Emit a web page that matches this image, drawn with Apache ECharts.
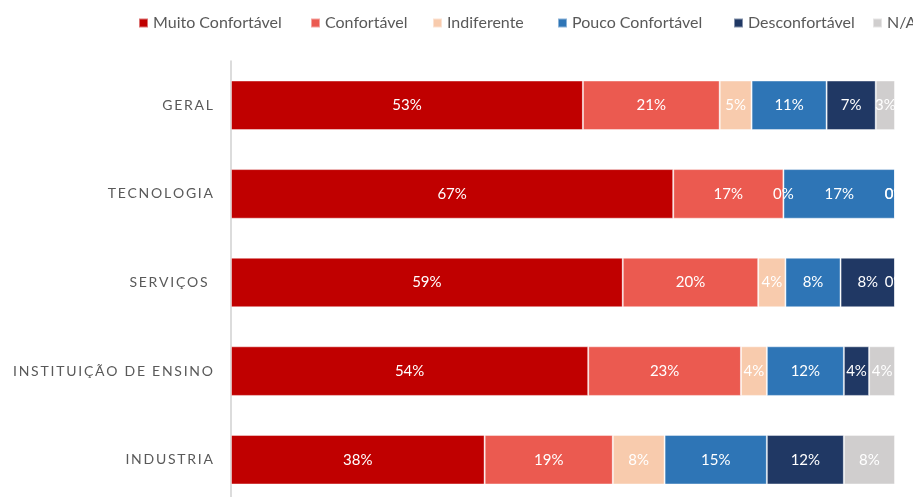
<!DOCTYPE html>
<html>
<head>
<meta charset="utf-8">
<script src="https://cdn.jsdelivr.net/npm/echarts@6/dist/echarts.min.js"></script>
<style>html,body{margin:0;padding:0;background:#fff}#c{width:913px;height:497px}</style>
</head>
<body>
<div id="c"></div>
<script>
const categories = ['GERAL', 'TECNOLOGIA', 'SERVIÇOS ', 'INSTITUIÇÃO DE ENSINO', 'INDUSTRIA'];
const seriesNames = ['Muito Confortável', 'Confortável', 'Indiferente', 'Pouco Confortável', 'Desconfortável', 'N/A'];
const muitoConfortavel = [53.0, 66.6, 59.0, 53.8, 38.2];
const confortavel      = [20.6, 16.6, 20.4, 23.0, 19.3];
const indiferente      = [4.8, 0, 4.1, 3.9, 7.8];
const poucoConfortavel = [11.3, 16.8, 8.3, 11.6, 15.4];
const desconfortavel   = [7.4, 0, 8.2, 3.8, 11.6];
const naoAplica        = [2.9, 0, 0, 3.9, 7.7];
const seriesData = [muitoConfortavel, confortavel, indiferente, poucoConfortavel, desconfortavel, naoAplica];
const colors = ['#C00000', '#EB5A50', '#F8CBAD', '#2E75B6', '#203864', '#D0CECE'];
const legendLeft = [138, 310, 432, 557, 733, 872];

const FONT = 'Lato';
const chart = echarts.init(document.getElementById('c'), null, {renderer: 'canvas'});
const option = {
  animation: false,
  color: colors,
  legend: seriesNames.map((n, i) => ({
    data: [n],
    left: legendLeft[i],
    top: 15,
    itemWidth: 9,
    itemHeight: 9,
    itemGap: 0,
    padding: 0,
    icon: 'rect',
    selectedMode: false,
    textStyle: {fontFamily: FONT, fontSize: 16, color: '#595959'}
  })),
  grid: {left: 231, right: 18, top: 61, height: 443, containLabel: false, outerBoundsMode: 'none'},
  xAxis: {type: 'value', min: 0, max: 100, show: false},
  yAxis: {
    type: 'category',
    data: categories,
    inverse: true,
    axisTick: {show: false},
    axisLine: {show: true, lineStyle: {color: '#D0D0D0', width: 1.5}},
    axisLabel: {
      margin: 18,
      color: '#595959',
      fontFamily: FONT,
      fontSize: 14,
      formatter: v => Array.from(v).join('\u2009')
    }
  },
  series: seriesNames.map((n, i) => ({
    name: n,
    type: 'bar',
    stack: 'total',
    barWidth: '56%',
    data: seriesData[i],
    itemStyle: {color: colors[i], borderColor: 'rgba(255,255,255,0.45)', borderWidth: 1},
    label: {
      show: true,
      position: 'inside',
      color: '#ffffff',
      fontFamily: FONT,
      fontSize: 15,
      formatter: p => Math.round(p.value) + '%'
    }
  }))
};
chart.setOption(option);
</script>
</body>
</html>
